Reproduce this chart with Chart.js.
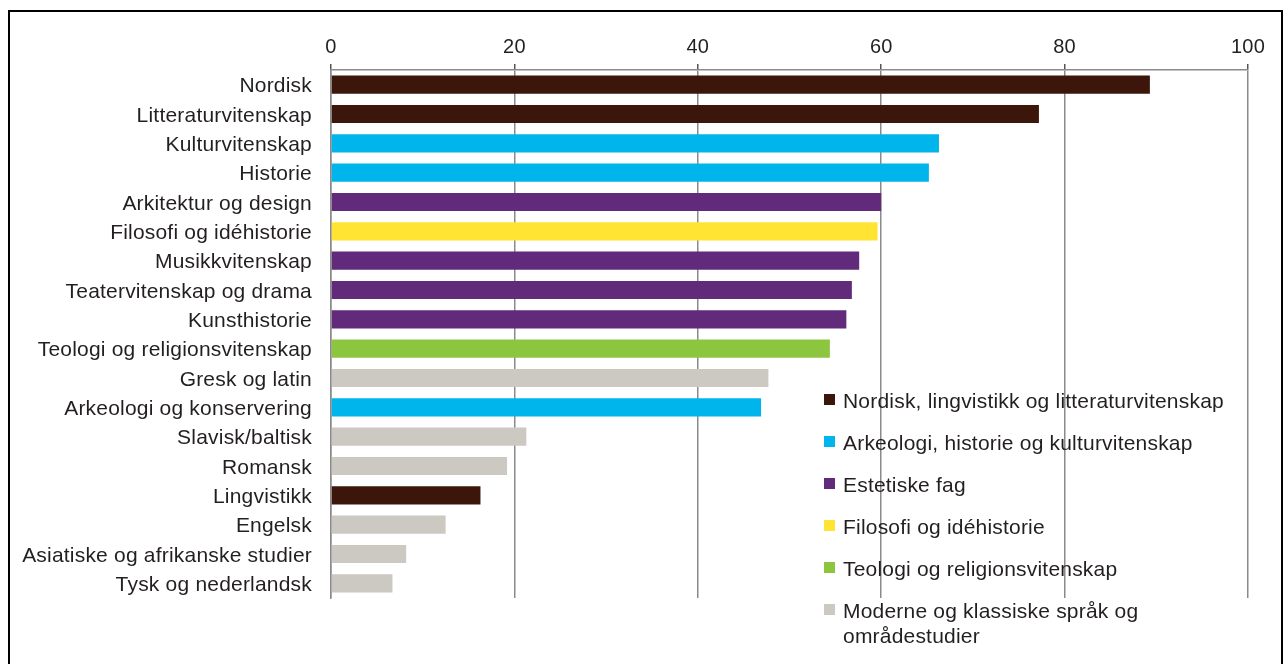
<!DOCTYPE html>
<html>
<head>
<meta charset="utf-8">
<script src="https://cdn.jsdelivr.net/npm/chart.js@4"></script>
<style>
  html, body { margin: 0; padding: 0; background: #fff; }
  #frame { position: absolute; left: 8px; top: 10px; width: 1275px; height: 660px; border: 2px solid #000; box-sizing: border-box; }
  #wrap { position: absolute; left: 0; top: 0; width: 1283px; height: 664px; }
</style>
</head>
<body>
<div id="frame"></div>
<div id="wrap"><canvas id="c"></canvas></div>
<script>
const categories = [
  "Nordisk", "Litteraturvitenskap", "Kulturvitenskap", "Historie",
  "Arkitektur og design", "Filosofi og idéhistorie", "Musikkvitenskap",
  "Teatervitenskap og drama", "Kunsthistorie", "Teologi og religionsvitenskap",
  "Gresk og latin", "Arkeologi og konservering", "Slavisk/baltisk", "Romansk",
  "Lingvistikk", "Engelsk", "Asiatiske og afrikanske studier", "Tysk og nederlandsk"
];
const values = [89.3, 77.2, 66.3, 65.2, 60.0, 59.6, 57.6, 56.8, 56.2, 54.4,
                47.7, 46.9, 21.3, 19.2, 16.3, 12.5, 8.2, 6.7];
// index into groupNames for each category
const groupOf = [0, 0, 1, 1, 2, 3, 2, 2, 2, 4, 5, 1, 5, 5, 0, 5, 5, 5];
const groupNames = [
  "Nordisk, lingvistikk og litteraturvitenskap",
  "Arkeologi, historie og kulturvitenskap",
  "Estetiske fag",
  "Filosofi og idéhistorie",
  "Teologi og religionsvitenskap",
  "Moderne og klassiske språk og områdestudier"
];
const groupColors = ["#3c160b", "#00b5ec", "#622a7a", "#ffe433", "#8cc63f", "#ccc8c2"];
const xTicks = [0, 20, 40, 60, 80, 100];

const FONT = "'Liberation Sans', Arial, sans-serif";
const TEXT = "#231f20";
const SPACING = '0.2px';

const datasets = groupNames.map((name, g) => ({
  label: name,
  data: values.map((v, i) => groupOf[i] === g ? v : null),
  backgroundColor: groupColors[g],
  borderWidth: 0,
  categoryPercentage: 1.0,
  barPercentage: 0.62
}));

const spacingPlugin = {
  id: 'spacing',
  beforeUpdate(chart) { chart.ctx.letterSpacing = SPACING; },
  beforeLayout(chart) { chart.ctx.letterSpacing = SPACING; },
  beforeDraw(chart) { chart.ctx.letterSpacing = SPACING; }
};

const legendPlugin = {
  id: 'customLegend',
  afterDraw(chart) {
    const ctx = chart.ctx;
    ctx.save();
    ctx.letterSpacing = SPACING;
    ctx.font = "21px " + FONT;
    ctx.fillStyle = TEXT;
    ctx.textBaseline = 'middle';
    const x0 = 824, box = 11, textX = 843, maxW = 400;
    let y = 402;
    chart.data.datasets.forEach(ds => {
      ctx.fillStyle = ds.backgroundColor;
      ctx.fillRect(x0, y - 8, box, box);
      ctx.fillStyle = TEXT;
      const words = ds.label.split(' ');
      const lines = [];
      let line = '';
      words.forEach(w => {
        const t = line ? line + ' ' + w : w;
        if (ctx.measureText(t).width > maxW && line) { lines.push(line); line = w; }
        else line = t;
      });
      lines.push(line);
      lines.forEach((l, k) => ctx.fillText(l, textX, y + k * 25.5));
      y += 42;
    });
    ctx.restore();
  }
};

new Chart(document.getElementById('c'), {
  type: 'bar',
  data: { labels: categories, datasets },
  options: {
    indexAxis: 'y',
    responsive: true,
    maintainAspectRatio: false,
    animation: false,
    layout: { padding: { left: 12, top: 20, right: 35, bottom: 66 } },
    plugins: { legend: { display: false }, tooltip: { enabled: false } },
    scales: {
      x: {
        position: 'top',
        stacked: true,
        min: 0, max: 100,
        afterBuildTicks(scale) { scale.ticks = xTicks.map(v => ({ value: v })); },
        afterFit(scale) { scale.height = 50; },
        grid: { color: '#8a8a8a', lineWidth: 1.5, drawTicks: true, tickLength: 6, tickColor: '#555' },
        border: { display: true, color: '#8a8a8a', width: 1.5 },
        ticks: { color: TEXT, font: { family: FONT, size: 20 }, padding: 5, maxRotation: 0 }
      },
      y: {
        stacked: true,
        afterFit(scale) { scale.width = 319; },
        grid: { display: false, drawTicks: false },
        border: { display: true, color: '#8a8a8a', width: 1.5 },
        ticks: { color: TEXT, font: { family: FONT, size: 21 }, padding: 19, autoSkip: false, labelOffset: 2 }
      }
    }
  },
  plugins: [spacingPlugin, legendPlugin]
});
</script>
</body>
</html>
